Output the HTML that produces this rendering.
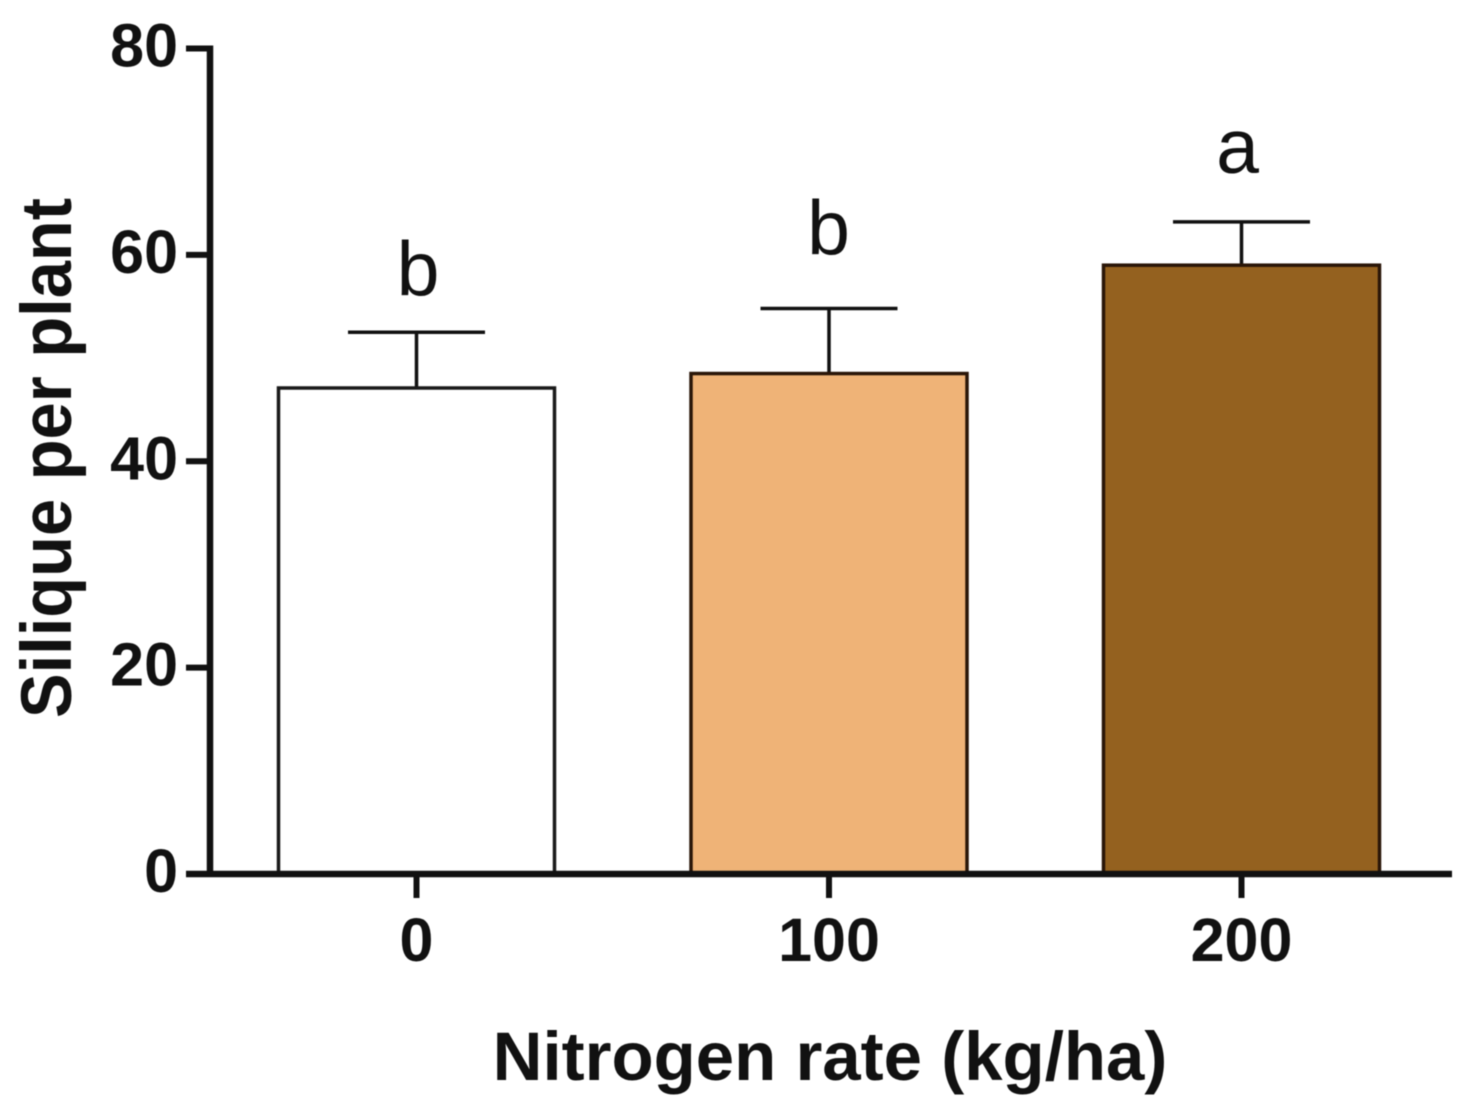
<!DOCTYPE html>
<html>
<head>
<meta charset="utf-8">
<style>
html,body{margin:0;padding:0;background:#fff;}
svg{display:block;filter:blur(0.6px);}
text{font-family:"Liberation Sans",sans-serif;fill:#111;}
</style>
</head>
<body>
<svg id="chart" width="1470" height="1108" viewBox="0 0 1470 1108" xmlns="http://www.w3.org/2000/svg"></svg>
<script>
const categories = ["0", "100", "200"];
const means = [47.1, 48.5, 59];
const errors = [5.4, 6.3, 4.2];
const letters = ["b", "b", "a"];
const colors = ["#ffffff", "#efb377", "#94611f"];
const yTicks = [0, 20, 40, 60, 80];

const NS = "http://www.w3.org/2000/svg";
const svg = document.getElementById("chart");
const y = v => 874 - (v / 80) * 825.5;
const x = i => 416.5 + i * 412.5;
const barW = 276;
const capW = 137;
const ink = "#111";
const strokes = ["#1a1a1a", "#2a1608", "#2a1608"];
const letterDx = [1.5, -0.5, -4];
const letterGap = [37, 54, 49];

function add(tag, attrs, text) {
  const el = document.createElementNS(NS, tag);
  for (const k in attrs) el.setAttribute(k, attrs[k]);
  if (text !== undefined) el.textContent = text;
  svg.appendChild(el);
  return el;
}

categories.forEach((c, i) => {
  const top = y(means[i]);
  const errTop = y(means[i] + errors[i]);
  const stem = add("line", {x1: x(i), x2: x(i), y1: top, y2: errTop, stroke: ink, "stroke-width": 3.5});
  
  
  const cap = add("line", {x1: x(i) - capW / 2, x2: x(i) + capW / 2, y1: errTop, y2: errTop, stroke: ink, "stroke-width": 3.5});
  
  
  const bar = add("rect", {x: x(i) - barW / 2, y: top, width: barW, height: 874 - top, fill: colors[i], stroke: strokes[i], "stroke-width": 3.5});
  
  
  const letter = add("text", {x: x(i) + letterDx[i], y: errTop - letterGap[i], "text-anchor": "middle", "font-size": 77}, letters[i]);
  
  
  const tick = add("line", {x1: x(i), x2: x(i), y1: 874, y2: 898, stroke: ink, "stroke-width": 6});
  
  
  const label = add("text", {x: x(i), y: 961, "text-anchor": "middle", "font-size": 61, "font-weight": "bold"}, c);
  
  
});

yTicks.forEach(v => {
  const tick = add("line", {x1: 186, x2: 211, y1: y(v), y2: y(v), stroke: ink, "stroke-width": 6});
  
  
  const label = add("text", {x: 178, y: y(v) + 18, "text-anchor": "end", "font-size": 61, "font-weight": "bold"}, String(v));
  
  
});

const yAxis = add("line", {x1: 210, x2: 210, y1: y(80) - 3, y2: 877, stroke: ink, "stroke-width": 6.5});


const xAxis = add("line", {x1: 186, x2: 1452, y1: 874, y2: 874, stroke: ink, "stroke-width": 6.5});



const yTitle = add("text", {x: 0, y: 0, transform: "translate(71 458) rotate(-90)", "text-anchor": "middle", "font-size": 71, "font-weight": "bold", textLength: 520, lengthAdjust: "spacingAndGlyphs"}, "Silique per plant");


const xTitle = add("text", {x: 830, y: 1080, "text-anchor": "middle", "font-size": 69, "font-weight": "bold"}, "Nitrogen rate (kg/ha)");


</script>
</body>
</html>
